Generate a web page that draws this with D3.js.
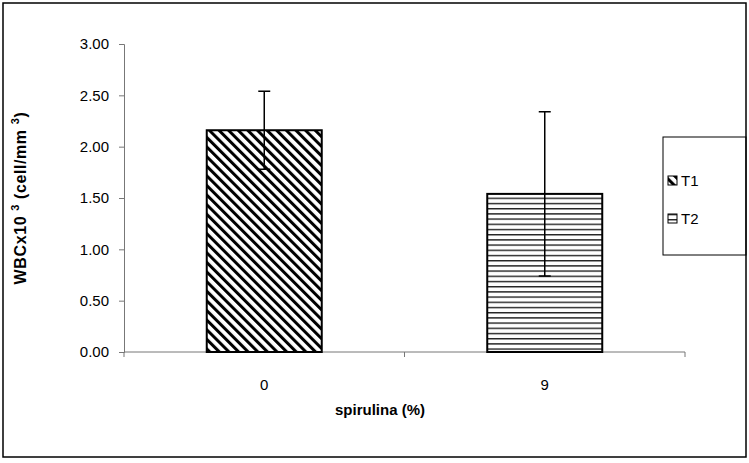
<!DOCTYPE html>
<html>
<head>
<meta charset="utf-8">
<script src="https://cdn.jsdelivr.net/npm/d3@7"></script>
<style>
  body { margin: 0; background: #fff; }
  text { font-family: Arial, "Liberation Sans", sans-serif; }
</style>
</head>
<body>
<script>
// chart data
const categories = ["0", "9"];
const series = ["T1", "T2"];
const means = [2.16, 1.54];
const errors = [0.38, 0.80];
const yTicks = [0, 0.5, 1, 1.5, 2, 2.5, 3];

const width = 749, height = 463;
const plot = {left: 124, right: 685, top: 44, bottom: 352};

const svg = d3.select("body")
  .append("svg")
  .attr("width", width)
  .attr("height", height);

const defs = svg.append("defs");

const diag = defs.append("pattern")
  .attr("id", "diag")
  .attr("patternUnits", "userSpaceOnUse")
  .attr("width", 6.8)
  .attr("height", 6.8)
  .attr("patternTransform", "rotate(-45)");
diag.append("rect").attr("width", 6.8).attr("height", 6.8).attr("fill", "#fff");
diag.append("rect").attr("width", 3).attr("height", 6.8).attr("fill", "#000");

const horiz = defs.append("pattern")
  .attr("id", "horiz")
  .attr("patternUnits", "userSpaceOnUse")
  .attr("width", 8)
  .attr("height", 5.2);
horiz.append("rect").attr("width", 8).attr("height", 5.2).attr("fill", "#fff");
horiz.append("rect").attr("width", 8).attr("height", 1.4).attr("fill", "#222");

const fills = ["url(#diag)", "url(#horiz)"];

const xScale = d3.scaleBand()
  .domain(categories)
  .range([plot.left, plot.right])
  .paddingInner(0.59)
  .paddingOuter(0.295);

const xBand = d3.scaleBand()
  .domain(categories)
  .range([plot.left, plot.right]);

const yScale = d3.scaleLinear()
  .domain([0, 3])
  .range([plot.bottom, plot.top]);

// y axis
const yAxis = d3.axisLeft(yScale)
  .tickValues(yTicks)
  .tickSize(5)
  .tickPadding(10)
  .tickFormat(d3.format(".2f"));

const gy = svg.append("g")
  .attr("transform", "translate(" + plot.left + ",0)")
  .call(yAxis);
gy.select(".domain").attr("stroke", "#777");
gy.selectAll(".tick line").attr("stroke", "#777");
gy.selectAll(".tick text")
  .attr("font-size", 15)
  .attr("fill", "#000")
  .style("font-family", "Arial, 'Liberation Sans', sans-serif");

// x axis line and ticks at band edges
svg.append("line")
  .attr("x1", plot.left).attr("x2", plot.right)
  .attr("y1", plot.bottom).attr("y2", plot.bottom)
  .attr("stroke", "#777");

const edges = categories.map(c => xBand(c)).concat([plot.right]);
svg.selectAll(".xtick")
  .data(edges)
  .enter()
  .append("line")
  .attr("class", "xtick")
  .attr("x1", d => d).attr("x2", d => d)
  .attr("y1", plot.bottom).attr("y2", plot.bottom + 5)
  .attr("stroke", "#777");

svg.selectAll(".xlabel")
  .data(categories)
  .enter()
  .append("text")
  .attr("class", "xlabel")
  .attr("x", d => xBand(d) + xBand.bandwidth() / 2)
  .attr("y", 390)
  .attr("text-anchor", "middle")
  .attr("font-size", 15)
  .text(d => d);

// bars
svg.selectAll(".bar")
  .data(means)
  .enter()
  .append("rect")
  .attr("class", "bar")
  .attr("x", (d, i) => xScale(categories[i]))
  .attr("y", d => yScale(d))
  .attr("width", xScale.bandwidth())
  .attr("height", d => yScale(0) - yScale(d))
  .attr("fill", (d, i) => fills[i])
  .attr("stroke", "#000")
  .attr("stroke-width", 2);

// error bars
const errG = svg.selectAll(".err")
  .data(means)
  .enter()
  .append("g")
  .attr("class", "err")
  .attr("stroke", "#000")
  .attr("stroke-width", 1.5);

errG.append("line")
  .attr("x1", (d, i) => xBand(categories[i]) + xBand.bandwidth() / 2)
  .attr("x2", (d, i) => xBand(categories[i]) + xBand.bandwidth() / 2)
  .attr("y1", (d, i) => yScale(d + errors[i]))
  .attr("y2", (d, i) => yScale(d - errors[i]));

[1, -1].forEach(sign => {
  errG.append("line")
    .attr("x1", (d, i) => xBand(categories[i]) + xBand.bandwidth() / 2 - 6)
    .attr("x2", (d, i) => xBand(categories[i]) + xBand.bandwidth() / 2 + 6)
    .attr("y1", (d, i) => yScale(d + sign * errors[i]))
    .attr("y2", (d, i) => yScale(d + sign * errors[i]));
});

// axis titles
const yTitle = svg.append("text")
  .attr("transform", "translate(26," + ((plot.top + plot.bottom) / 2) + ") rotate(-90)")
  .attr("text-anchor", "middle")
  .attr("font-size", 16)
  .attr("font-weight", "bold")
  .attr("letter-spacing", 0.6);
yTitle.append("tspan").text("WBCx10 ");
yTitle.append("tspan").attr("font-size", 11).attr("dy", -7).text("3");
yTitle.append("tspan").attr("dy", 7).text(" (cell/mm ");
yTitle.append("tspan").attr("font-size", 11).attr("dy", -7).text("3");
yTitle.append("tspan").attr("dy", 7).text(")");

svg.append("text")
  .attr("x", 380)
  .attr("y", 415)
  .attr("text-anchor", "middle")
  .attr("font-size", 15)
  .attr("font-weight", "bold")
  .text("spirulina (%)");

// legend
const legend = svg.append("g").attr("transform", "translate(663,137)");
legend.append("rect")
  .attr("width", 83).attr("height", 118)
  .attr("fill", "#fff")
  .attr("stroke", "#000")
  .attr("stroke-width", 1);

const items = legend.selectAll(".item")
  .data(series)
  .enter()
  .append("g")
  .attr("class", "item")
  .attr("transform", (d, i) => "translate(5," + (44 + i * 38) + ")");

items.append("rect")
  .attr("y", -5).attr("width", 9).attr("height", 9)
  .attr("fill", (d, i) => fills[i])
  .attr("stroke", "#000")
  .attr("stroke-width", 1);

items.append("text")
  .attr("x", 13).attr("y", 5)
  .attr("font-size", 15)
  .text(d => d);

// outer frame
svg.append("rect")
  .attr("x", 3).attr("y", 3)
  .attr("width", 743).attr("height", 454)
  .attr("fill", "none")
  .attr("stroke", "#000")
  .attr("stroke-width", 1.5);
</script>
</body>
</html>
